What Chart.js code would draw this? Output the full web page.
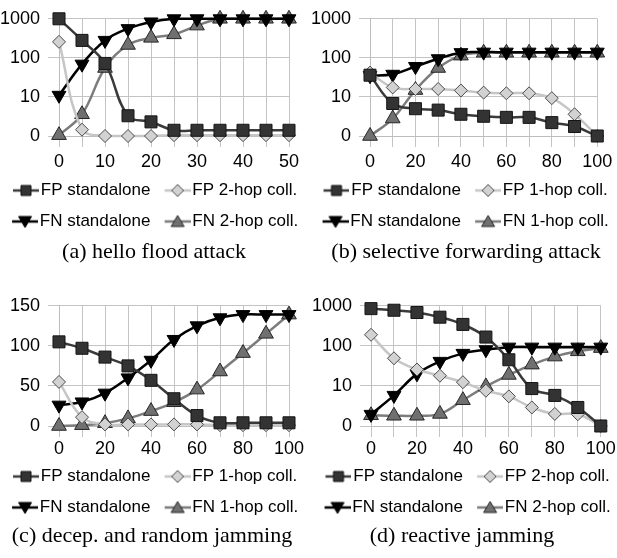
<!DOCTYPE html>
<html><head><meta charset="utf-8">
<script src="https://cdn.jsdelivr.net/npm/chart.js@4.4.1/dist/chart.umd.min.js"></script>
<style>
html,body{margin:0;padding:0;background:#fff;}
body{width:617px;height:558px;position:relative;overflow:hidden;}
canvas{position:absolute;display:block;}
.cap{position:absolute;font-family:'Liberation Serif','Times New Roman',serif;color:#000;white-space:nowrap;transform:translateX(-50%);font-size:22px;line-height:22px;}
</style></head><body>
<canvas id="ca" width="320" height="240" style="left:0;top:0"></canvas>
<canvas id="cb" width="317" height="240" style="left:300px;top:0"></canvas>
<canvas id="cc" width="320" height="239" style="left:0;top:287px"></canvas>
<canvas id="cd" width="317" height="239" style="left:300px;top:287px"></canvas>
<div class="cap" id="capA" style="left:154px;top:240px"></div>
<div class="cap" id="capB" style="left:466px;top:240px"></div>
<div class="cap" id="capC" style="left:152px;top:524px"></div>
<div class="cap" id="capD" style="left:462px;top:524px"></div>
<script>
// ---------- data ----------
const xA = [0, 5, 10, 15, 20, 25, 30, 35, 40, 45, 50];
const xB = [0, 10, 20, 30, 40, 50, 60, 70, 80, 90, 100];

const namesA = ['FP standalone', 'FP 2-hop coll.', 'FN standalone', 'FN 2-hop coll.'];
const namesB = ['FP standalone', 'FP 1-hop coll.', 'FN standalone', 'FN 1-hop coll.'];

const captionA = '(a) hello flood attack';
const captionB = '(b) selective forwarding attack';
const captionC = '(c) decep. and random jamming';
const captionD = '(d) reactive jamming';

const logTicks = [1, 10, 100, 1000];
const logTickLabels = ['0', '10', '100', '1000'];
const linTicks = [0, 50, 100, 150];

// (a) hello flood attack
const aFpStandalone = [1000, 280, 72, 3.3, 2.3, 1.4, 1.4, 1.4, 1.4, 1.4, 1.4];
const aFp2hop       = [257, 1.45, 1, 1, 1, 1.05, 1.05, 1.05, 1.05, 1.05, 1.05];
const aFnStandalone = [11, 69, 280, 560, 830, 1000, 1000, 1000, 1000, 1000, 1000];
const aFn2hop       = [1.05, 3.6, 55, 214, 325, 400, 670, 1000, 1000, 1000, 1000];

// (b) selective forwarding attack
const bFpStandalone = [36, 6.8, 5.0, 4.6, 3.6, 3.2, 3.0, 3.0, 2.2, 1.75, 1];
const bFp1hop       = [42, 17.5, 16, 16, 14.6, 12.9, 12.4, 12.4, 9.3, 3.6, 1];
const bFnStandalone = [35, 38, 60, 95, 136, 140, 140, 140, 140, 140, 140];
const bFn1hop       = [1, 2.8, 15, 55, 114, 135, 135, 135, 135, 135, 135];

// (c) deceptive and random jamming
const cFpStandalone = [105, 97, 86, 75, 57, 34, 13, 4, 4, 4, 4];
const cFp1hop       = [55, 11, 2, 2, 2, 2, 2, 1, 1, 1, 1];
const cFnStandalone = [26, 30, 41, 60, 82, 108, 125, 135, 139, 139, 139];
const cFn1hop       = [0, 1, 3.5, 9.5, 18.6, 29.6, 45.4, 68, 91, 115, 139];

// (d) reactive jamming
const dFpStandalone = [850, 775, 680, 520, 343, 166, 45, 8.6, 5.8, 2.9, 1];
const dFp2hop       = [189, 49, 25.7, 18, 12.4, 7.6, 5.5, 2.9, 2.0, 1.96, 1];
const dFnStandalone = [1.95, 5.8, 20, 41, 65, 80, 93, 93, 93, 93, 93];
const dFn2hop       = [1.85, 1.8, 1.8, 2.0, 4.4, 9.7, 18.8, 34, 54, 73, 88];

// ---------- styles ----------
const FONT = "'Liberation Sans',Arial,sans-serif";
Chart.defaults.font.family = FONT;
Chart.defaults.font.size = 18;
Chart.defaults.color = '#000';

const STY = [
  {line: '#3a3a3a', fill: '#333333', border: '#151515', shape: 'rect',     r: 8.5, rot: 0},
  {line: '#c6c6c6', fill: '#d2d2d2', border: '#4a4a4a', shape: 'rectRot',  r: 6.5, rot: 0},
  {line: '#000000', fill: '#000000', border: '#000000', shape: 'triangle', r: 8,   rot: 180},
  {line: '#7c7c7c', fill: '#707070', border: '#262626', shape: 'triangle', r: 8.5, rot: 0}
];

// legend icon: line segment with marker, right-aligned in a 33px-wide image
function makeIcon(st) {
  const c = document.createElement('canvas');
  c.width = 33; c.height = 16;
  const g = c.getContext('2d');
  const o = 7, cx = o + 13;
  g.strokeStyle = st.line; g.lineWidth = 2.5;
  g.beginPath(); g.moveTo(o, 8); g.lineTo(o + 26, 8); g.stroke();
  g.fillStyle = st.fill; g.strokeStyle = st.border; g.lineWidth = 1;
  g.beginPath();
  if (st.shape === 'rect') {
    g.rect(cx - 5, 3, 10, 10);
  } else if (st.shape === 'rectRot') {
    g.moveTo(cx, 2); g.lineTo(cx + 6, 8); g.lineTo(cx, 14); g.lineTo(cx - 6, 8); g.closePath();
  } else if (st.rot === 180) {
    g.moveTo(cx - 6.5, 3); g.lineTo(cx + 6.5, 3); g.lineTo(cx, 14); g.closePath();
  } else {
    g.moveTo(cx, 2); g.lineTo(cx + 6.5, 13); g.lineTo(cx - 6.5, 13); g.closePath();
  }
  g.fill(); g.stroke();
  return c;
}
const ICONS = STY.map(makeIcon);

const legendShift = {
  id: 'legendShift',
  afterLayout(chart, args, opts) {
    const l = chart.legend;
    if (l && opts && opts.dx) { l.left += opts.dx; l.right += opts.dx; }
  }
};

function makeChart(id, xs, labelEvery, series, names, yCfg, lay) {
  const datasets = series.map((d, i) => ({
    label: names[i],
    data: d,
    yAxisID: 'y',
    borderColor: STY[i].line,
    backgroundColor: STY[i].fill,
    borderWidth: 2.5,
    tension: 0.4,
    pointStyle: STY[i].shape,
    pointRotation: STY[i].rot,
    pointRadius: STY[i].r,
    pointBackgroundColor: STY[i].fill,
    pointBorderColor: STY[i].border,
    pointBorderWidth: 1,
    clip: false,
    fill: false
  }));
  const yScale = yCfg.log ? {
    type: 'logarithmic', min: 1, max: 1000,
    afterBuildTicks: s => { s.ticks = logTicks.map(v => ({value: v})); },
    ticks: {padding: 8, autoSkip: false, callback: v => logTickLabels[logTicks.indexOf(v)] ?? ''}
  } : {
    type: 'linear', min: 0, max: 150,
    afterBuildTicks: s => { s.ticks = linTicks.map(v => ({value: v})); },
    ticks: {padding: 8, autoSkip: false, callback: v => String(v)}
  };
  yScale.position = 'left';
  yScale.grid = {color: '#c4c4c4', lineWidth: 1, tickLength: 11};
  yScale.border = {color: '#bdbdbd', width: 1};
  yScale.afterFit = s => { s.width = lay.yw; };

  new Chart(document.getElementById(id), {
    type: 'line',
    data: {labels: xs, datasets},
    plugins: [legendShift],
    options: {
      responsive: false,
      animation: false,
      events: [],
      layout: {padding: {top: lay.top, left: 0, right: 0, bottom: 0}},
      plugins: {
        legendShift: {dx: lay.dx},
        tooltip: {enabled: false},
        legend: {
          position: 'bottom',
          labels: {
            usePointStyle: true,
            pointStyleWidth: 19.5,
            padding: 14,
            font: {size: 17, family: FONT},
            color: '#000',
            generateLabels: chart => chart.data.datasets.map((ds, i) => ({
              text: ds.label, pointStyle: ICONS[i], datasetIndex: i, hidden: false,
              lineWidth: 0, strokeStyle: 'rgba(0,0,0,0)', fillStyle: 'rgba(0,0,0,0)', fontColor: '#000'
            }))
          }
        }
      },
      scales: {
        x: {
          type: 'category',
          offset: false,
          grid: {color: '#c4c4c4', lineWidth: 1, tickLength: 11, offset: false},
          border: {color: '#bdbdbd', width: 1},
          ticks: {
            autoSkip: false, maxRotation: 0, minRotation: 0, padding: lay.xpad,
            callback: function (v) {
              const val = Number(this.getLabelForValue(v));
              return val % labelEvery === 0 ? String(val) : '';
            }
          },
          afterFit: s => { s.height = lay.xh; }
        },
        y: yScale,
        yR: {
          type: 'linear', position: 'right', display: true,
          grid: {display: false, drawTicks: false},
          border: {display: false},
          ticks: {display: false},
          afterFit: s => { s.width = lay.rw; }
        }
      }
    }
  });
}

makeChart('ca', xA, 10, [aFpStandalone, aFp2hop, aFnStandalone, aFn2hop], namesA, {log: true},
  {top: 10, yw: 59, rw: 31, xh: 32, xpad: 4.7, dx: -5});
makeChart('cb', xB, 20, [bFpStandalone, bFp1hop, bFnStandalone, bFn1hop], namesB, {log: true},
  {top: 10, yw: 70, rw: 16, xh: 32, xpad: 4.7, dx: 7});
makeChart('cc', xB, 20, [cFpStandalone, cFp1hop, cFnStandalone, cFn1hop], namesB, {log: false},
  {top: 12, yw: 59, rw: 31, xh: 28, xpad: 1.2, dx: -5});
makeChart('cd', xB, 20, [dFpStandalone, dFp2hop, dFnStandalone, dFn2hop], namesA, {log: true},
  {top: 12, yw: 71, rw: 16, xh: 28, xpad: 1.2, dx: 9});

document.getElementById('capA').textContent = captionA;
document.getElementById('capB').textContent = captionB;
document.getElementById('capC').textContent = captionC;
document.getElementById('capD').textContent = captionD;
</script>
</body></html>
